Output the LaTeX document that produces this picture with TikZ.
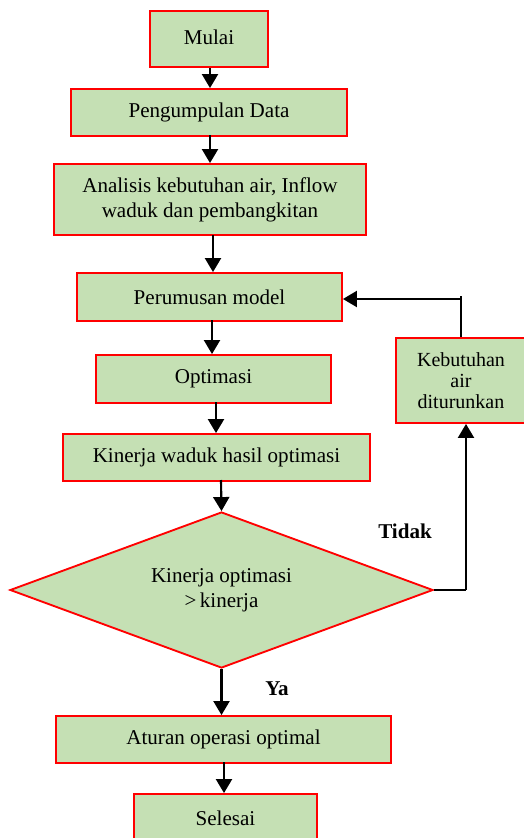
\documentclass[tikz,border=0pt]{standalone}
\usepackage{fontspec}
\setmainfont{Liberation Serif}
\usetikzlibrary{shapes.geometric,arrows.meta}
\definecolor{boxgreen}{HTML}{C5E0B4}
\definecolor{boxred}{HTML}{FF0000}
\begin{document}
\begin{tikzpicture}[x=0.75pt,y=-0.75pt,
  flowbox/.style={draw=boxred,fill=boxgreen,line width=1.4pt,inner sep=0pt,align=center,
    font=\fontsize{15.8}{18.75}\selectfont},
  decbox/.style={flowbox,shape=diamond,aspect=2.7},
  flowarrow/.style={line width=1.6pt,-{Triangle[width=12pt,length=10.5pt]}},
  thinline/.style={line width=0.9pt},
  lbl/.style={font=\fontsize{15.8}{18.75}\selectfont\bfseries,inner sep=0pt}]
\useasboundingbox (0,0) rectangle (524,838);
\node[flowbox,minimum width=88.5pt,minimum height=42pt] (mulai) at (209,39) {\raisebox{3pt}{Mulai}};
\node[flowbox,minimum width=207pt,minimum height=35.25pt] (data) at (209,112.5) {Pengumpulan Data};
\node[flowbox,minimum width=234pt,minimum height=53.25pt] (analisis) at (210,199.5) {Analisis kebutuhan air, Inflow\\waduk dan pembangkitan};
\node[flowbox,minimum width=198.75pt,minimum height=36pt] (model) at (209.5,297) {Perumusan model};
\node[flowbox,minimum width=176.25pt,minimum height=36pt] (opt) at (213.5,379) {Optimasi};
\node[flowbox,minimum width=230.25pt,minimum height=35.25pt] (kinerja) at (216.5,457.5) {Kinerja waduk hasil optimasi};
\node[decbox,minimum width=317.25pt,minimum height=117pt] (dec) at (221.5,590) {Kinerja optimasi\\{>}\,kinerja};
\node[flowbox,minimum width=97.5pt,minimum height=63.75pt,font=\fontsize{15}{15.5}\selectfont] (turun) at (461,380.5) {Kebutuhan\\air\\diturunkan};
\node[flowbox,minimum width=251.25pt,minimum height=35.25pt] (aturan) at (223.5,739.5) {Aturan operasi optimal};
\node[flowbox,minimum width=137.25pt,minimum height=36pt] (selesai) at (225.5,818) {Selesai};
\node[lbl] (tidak) at (405,531) {Tidak};
\node[lbl] (ya) at (277,689) {Ya};
\coordinate (c1) at (466,590);
\coordinate (c2) at (461,296);
\coordinate (c3) at (461,299);
\draw[flowarrow] (210,68) -- (data.north -| 210,0);
\draw[flowarrow] (210,135) -- (analisis.north -| 210,0);
\draw[flowarrow] (213,235) -- (model.north -| 213,0);
\draw[flowarrow] (212,320) -- (opt.north -| 212,0);
\draw[flowarrow] (216,402) -- (kinerja.north -| 216,0);
\draw[flowarrow] (221,480) -- (dec.north);
\draw[flowarrow] (dec.south) -- (aturan.north -| dec.south);
\draw[flowarrow] (224,762) -- (selesai.north -| 224,0);
\draw[thinline] (dec.east) -- (c1);
\draw[flowarrow] (c1) -- (turun.south -| c1);
\draw[thinline] (turun.north -| c2) -- (c2);
\draw[flowarrow] (c3) -- (model.east |- c3);
\end{tikzpicture}
\end{document}
